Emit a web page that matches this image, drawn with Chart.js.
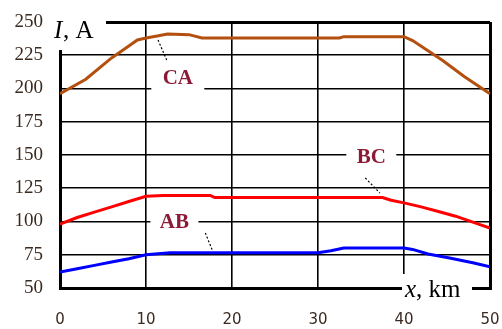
<!DOCTYPE html>
<html>
<head>
<meta charset="utf-8">
<script src="https://cdn.jsdelivr.net/npm/chart.js@4"></script>
<style>
  html, body { margin: 0; padding: 0; background: #fff; }
  #wrap { width: 502px; height: 329px; }
</style>
</head>
<body>
<div id="wrap"><canvas id="myChart" width="502" height="329"></canvas></div>
<script>
// distance x, km
const xTicks = [0, 10, 20, 30, 40, 50];
const yTicks = [50, 75, 100, 125, 150, 175, 200, 225, 250];

// phase currents I, A
const caX = [0, 3, 6, 8, 9, 10, 11.3, 12.5, 15, 16.5, 32.5, 33, 40, 41, 44.5, 47, 50];
const caY = [196, 207, 223, 232, 236.5, 238, 239.5, 241, 240.5, 238, 238, 239, 239, 236, 221, 209, 196];

const bcX = [0, 2, 4, 6, 8, 10, 12, 17.5, 18, 37.5, 38.5, 40, 42, 44, 46, 48, 50];
const bcY = [98, 103, 107, 111, 115, 119, 119.5, 119.5, 118, 118, 116, 114, 111, 107.5, 104, 99.5, 95];

const abX = [0, 2, 4, 6, 8, 10, 12.8, 30, 31.5, 33, 40, 41, 42.8, 45.3, 48, 50];
const abY = [62, 64.5, 67, 69.5, 72, 75, 76.5, 76.5, 78, 80, 80, 79, 75.6, 72.5, 69, 66];

const toPoints = (xs, ys) => xs.map((x, i) => ({ x: x, y: ys[i] }));

// series labels with leader lines (data coords)
const seriesLabels = [
  { text: 'CA', x: 13.7, y: 208, w: 53, h: 34, lead: [[11.4, 236.5], [12.4, 221.5]] },
  { text: 'BC', x: 36.2, y: 148.5, w: 50, h: 28, lead: [[35.5, 132.7], [37.2, 121.4]] },
  { text: 'AB', x: 13.3, y: 99.6, w: 48, h: 28, lead: [[16.9, 91.4], [17.7, 78.6]] },
];

const labelsPlugin = {
  id: 'labelsPlugin',
  beforeDatasetsDraw(chart) {
    const c = chart.ctx;
    const xs = chart.scales.x;
    const ys = chart.scales.y;
    const area = chart.chartArea;
    c.save();

    seriesLabels.forEach(l => {
      const px = xs.getPixelForValue(l.x);
      const py = ys.getPixelForValue(l.y);
      c.fillStyle = '#fff';
      c.fillRect(px - l.w / 2, py - l.h / 2, l.w, l.h);
      c.fillStyle = '#8b1a36';
      c.font = 'bold 21px "Liberation Serif"';
      c.textAlign = 'center';
      c.textBaseline = 'middle';
      c.fillText(l.text, px, py + 1);

      c.strokeStyle = '#000';
      c.lineWidth = 1.2;
      c.setLineDash([2, 2]);
      c.beginPath();
      c.moveTo(xs.getPixelForValue(l.lead[0][0]), ys.getPixelForValue(l.lead[0][1]));
      c.lineTo(xs.getPixelForValue(l.lead[1][0]), ys.getPixelForValue(l.lead[1][1]));
      c.stroke();
      c.setLineDash([]);
    });

    // axis titles
    c.fillStyle = '#fff';
    c.fillRect(area.left - 12, area.top - 14, 58, 42);
    c.fillRect(area.right - 88, area.bottom - 14, 70, 32);

    c.fillStyle = '#000';
    c.textBaseline = 'alphabetic';
    c.textAlign = 'left';
    c.font = 'italic 25px "Liberation Serif"';
    c.fillText('I', area.left - 6, area.top + 16);
    c.font = '25px "Liberation Serif"';
    c.fillText(', A', area.left + 3, area.top + 16);

    c.font = 'italic 25px "Liberation Serif"';
    c.fillText('x', area.right - 85, area.bottom + 9);
    c.font = '25px "Liberation Serif"';
    c.fillText(', km', area.right - 74, area.bottom + 9);
    c.restore();
  },
};

const edge = (v, lo, hi) => (v === lo || v === hi ? 3 : 1.6);

const ctx = document.getElementById('myChart').getContext('2d');

const chart = new Chart(ctx, {
  type: 'line',
  data: {
    datasets: [
      {
        label: 'CA',
        data: toPoints(caX, caY),
        borderColor: '#b4500f',
        borderWidth: 3,
        pointRadius: 0,
        fill: false,
      },
      {
        label: 'BC',
        data: toPoints(bcX, bcY),
        borderColor: '#ff0000',
        borderWidth: 3,
        pointRadius: 0,
        fill: false,
      },
      {
        label: 'AB',
        data: toPoints(abX, abY),
        borderColor: '#0000ff',
        borderWidth: 3,
        pointRadius: 0,
        fill: false,
      },
    ],
  },
  options: {
    responsive: false,
    animation: false,
    layout: { padding: { top: 22, right: 12, left: 0, bottom: 0 } },
    plugins: {
      legend: { display: false },
      tooltip: { enabled: false },
    },
    scales: {
      x: {
        type: 'linear',
        min: 0,
        max: 50,
        afterFit: s => {
          s.height = 41;
          s.paddingLeft = 0;
          s.paddingRight = 0;
        },
        afterBuildTicks: s => { s.ticks = xTicks.map(v => ({ value: v })); },
        grid: {
          color: '#000',
          lineWidth: c => edge(c.tick && c.tick.value, 0, 50),
          drawTicks: false,
        },
        border: { display: true, color: '#000', width: 3 },
        ticks: {
          padding: 23,
          color: '#3a2a20',
          font: { family: '"DejaVu Sans"', size: 15 },
        },
      },
      y: {
        min: 50,
        max: 250,
        afterFit: s => {
          s.width = 60;
          s.paddingTop = 0;
          s.paddingBottom = 0;
        },
        afterBuildTicks: s => { s.ticks = yTicks.map(v => ({ value: v })); },
        grid: {
          color: '#000',
          lineWidth: c => edge(c.tick && c.tick.value, 50, 250),
          drawTicks: false,
        },
        border: { display: true, color: '#000', width: 3 },
        ticks: {
          padding: 17,
          color: '#3a2a20',
          font: { family: '"Liberation Serif"', size: 19 },
        },
      },
    },
  },
  plugins: [labelsPlugin],
});
</script>
</body>
</html>
